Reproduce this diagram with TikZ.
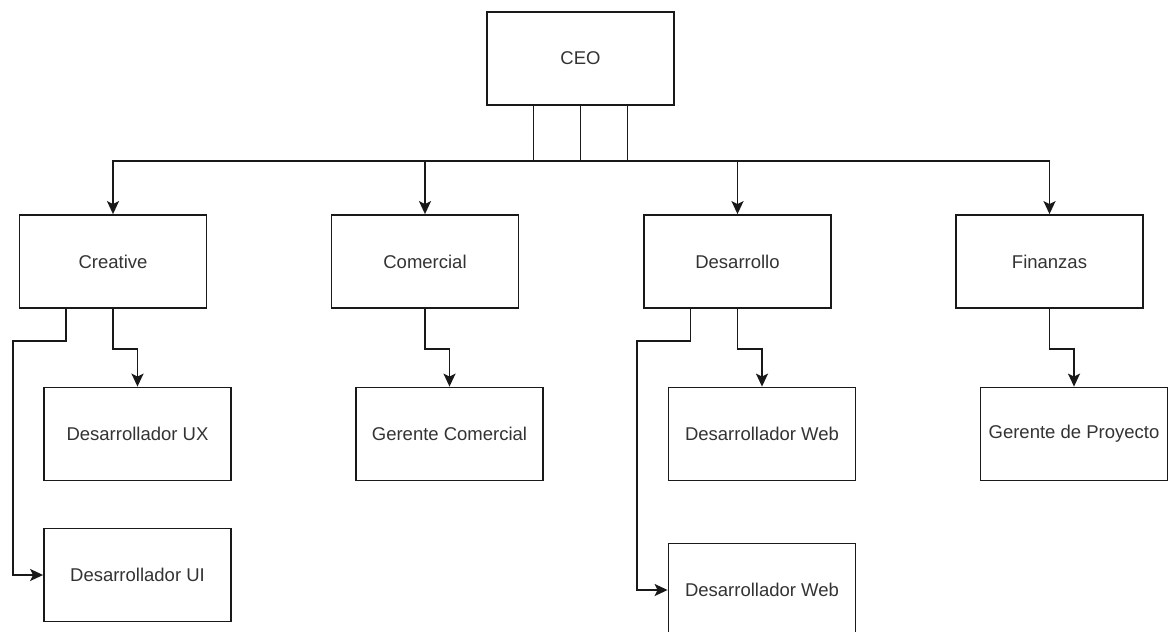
\documentclass[tikz,border=0pt]{standalone}
\usepackage{fontspec}
\setmainfont{Liberation Sans}
\usetikzlibrary{calc,arrows.meta}
\begin{document}
\begin{tikzpicture}[x=1pt,y=-1pt,
  unit/.style={draw=black!90,line width=1.8pt,minimum width=187pt,minimum height=93pt,
    inner sep=0pt,text=black!80,font=\fontsize{18.5}{22}\selectfont},
  link/.style={draw=black!90,line width=1.8pt},
  arr/.style={link,-{Stealth[length=13pt,width=12pt,inset=3pt]}}]
\useasboundingbox (0,0) rectangle (1168,632);
\clip (0,0) rectangle (1168,632);
\fill[white] (0,0) rectangle (1168,632);

% top of the chart
\node[unit] (ceo) at (580.5,58.5) {CEO};

% departments
\node[unit] (cre) at (113,261.5) {Creative};
\node[unit] (com) at (425,261.5) {Comercial};
\node[unit] (des) at (737.5,261.5) {Desarrollo};
\node[unit] (fin) at (1049.5,261.5) {Finanzas};

% staff under each department
\node[unit] (ux) at (137.5,434) {Desarrollador UX};
\node[unit] (ui) at (137.5,575) {Desarrollador UI};
\node[unit] (gcom) at (449.5,434) {Gerente Comercial};
\node[unit] (web1) at (762,434) {Desarrollador Web};
\node[unit] (web2) at (762,590) {Desarrollador Web};
\node[unit] (gpro) at (1074,434) {Gerente de Proyecto};

% CEO to departments
\draw[arr] ($(ceo.south)+(-47,0)$) -- ++(0,55) -| (cre.north);
\draw[arr] (ceo.south) -- ++(0,55) -| (com.north);
\draw[arr] ($(ceo.south)+(47,0)$) -- ++(0,55) -| (des.north);
\draw[arr] ($(ceo.south)+(-47,0)$) -- ++(0,55) -| (fin.north);

% Creative
\draw[arr] (cre.south) -- ++(0,40) -| (ux.north);
\draw[arr] ($(cre.south)+(-47,0)$) -- ++(0,32) -| ($(ui.west)+(-30,0)$) -- (ui.west);

% Comercial
\draw[arr] (com.south) -- ++(0,40) -| (gcom.north);

% Desarrollo
\draw[arr] (des.south) -- ++(0,40) -| (web1.north);
\draw[arr] ($(des.south)+(-47,0)$) -- ++(0,32) -| ($(web2.west)+(-31,0)$) -- (web2.west);

% Finanzas
\draw[arr] (fin.south) -- ++(0,40) -| (gpro.north);
\end{tikzpicture}
\end{document}
